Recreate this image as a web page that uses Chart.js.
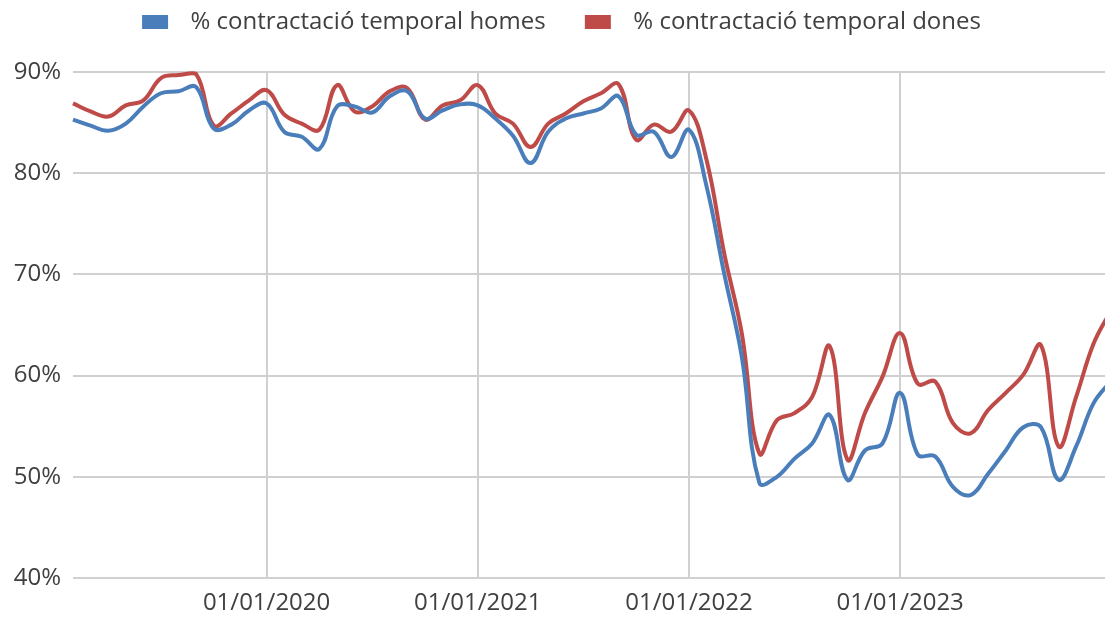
<!DOCTYPE html>
<html>
<head>
<meta charset="utf-8">
<script src="https://cdn.jsdelivr.net/npm/chart.js@4"></script>
<style>
  html, body { margin: 0; padding: 0; background: #fff; }
  #wrap { width: 1105px; height: 618px; }
</style>
</head>
<body>
<div id="wrap"><canvas id="chart"></canvas></div>
<script>
// monthly series, Feb 2019 .. Jan 2024 (index 0 = first month)
const homes = [85.3, 84.7, 84.2, 84.9, 86.6, 87.9, 88.1, 88.5, 84.4, 84.8, 86.2, 86.9,
  84.1, 83.6, 82.4, 86.6, 86.6, 86.0, 87.6, 88.1, 85.4, 86.2, 86.8, 86.7,
  85.4, 83.7, 81.0, 84.1, 85.4, 85.9, 86.4, 87.6, 83.8, 84.1, 81.6, 84.3,
  78.7, 70.1, 61.9, 49.4, 50.0, 51.8, 53.3, 56.1, 49.7, 52.6, 53.3, 58.3,
  52.2, 52.0, 49.0, 48.2, 50.3, 52.6, 54.9, 54.9, 49.7, 53.0, 57.3, 59.5];
const dones = [86.9, 86.1, 85.6, 86.7, 87.2, 89.4, 89.7, 89.8, 84.7, 85.9, 87.2, 88.2,
  85.8, 84.9, 84.3, 88.7, 86.1, 86.6, 88.1, 88.4, 85.3, 86.7, 87.2, 88.7,
  85.9, 84.9, 82.6, 84.9, 85.9, 87.1, 87.9, 88.8, 83.3, 84.8, 84.1, 86.2,
  81.3, 72.1, 64.2, 52.3, 55.6, 56.3, 57.9, 62.9, 51.7, 56.3, 59.9, 64.2,
  59.2, 59.4, 55.3, 54.3, 56.6, 58.3, 60.1, 63.0, 53.0, 57.9, 63.2, 66.5];
const yearTicks = [11, 23, 35, 47];
const yearLabels = ['01/01/2020', '01/01/2021', '01/01/2022', '01/01/2023'];
const seriesNames = ['% contractació temporal homes', '% contractació temporal dones'];

const textColor = '#404040';
const gridColor = '#d0d0d0';
const font = { family: 'Open Sans', size: 24 };

// leave room between the legend and the plot, nudge legend a bit right
const legendGap = {
  id: 'legendGap',
  beforeInit(chart) {
    const fit = chart.legend.fit;
    chart.legend.fit = function () {
      fit.bind(chart.legend)();
      this.height += 28;
    };
  },
  afterLayout(chart) {
    chart.legend.left += 20;
  }
};

new Chart(document.getElementById('chart'), {
  type: 'line',
  plugins: [legendGap],
  data: {
    datasets: [
      {
        label: seriesNames[0],
        data: homes.map((v, i) => ({ x: i, y: v })),
        borderColor: '#4a7ebb',
        backgroundColor: '#4a7ebb',
        borderWidth: 4,
        pointRadius: 0,
        tension: 0.4,
        clip: false
      },
      {
        label: seriesNames[1],
        data: dones.map((v, i) => ({ x: i, y: v })),
        borderColor: '#be4b48',
        backgroundColor: '#be4b48',
        borderWidth: 4,
        pointRadius: 0,
        tension: 0.4,
        clip: false
      }
    ]
  },
  options: {
    responsive: true,
    maintainAspectRatio: false,
    animation: false,
    layout: { padding: { left: 0, right: 0, top: 0, bottom: 0 } },
    plugins: {
      tooltip: { enabled: false },
      legend: {
        position: 'top',
        labels: {
          boxWidth: 22,
          boxHeight: 10,
          padding: 10,
          color: textColor,
          font: font,
          generateLabels(chart) {
            const items = Chart.defaults.plugins.legend.labels.generateLabels(chart);
            items.forEach((it, i) => {
              it.text = '  ' + it.text + (i < items.length - 1 ? '     ' : '');
            });
            return items;
          }
        }
      }
    },
    scales: {
      x: {
        type: 'linear',
        min: 0,
        max: 58.64,
        afterBuildTicks(scale) {
          scale.ticks = yearTicks.map(v => ({ value: v }));
        },
        afterFit(scale) { scale.height = 40; },
        ticks: {
          autoSkip: false,
          maxRotation: 0,
          padding: 11,
          color: textColor,
          font: font,
          callback: v => yearLabels[yearTicks.indexOf(v)]
        },
        grid: { color: gridColor, lineWidth: 2, drawTicks: false },
        border: { display: false }
      },
      y: {
        min: 40,
        max: 90,
        afterFit(scale) { scale.width = 73; },
        ticks: {
          stepSize: 10,
          padding: 12,
          color: textColor,
          font: font,
          callback: v => v + '%'
        },
        grid: { color: gridColor, lineWidth: 2, drawTicks: false },
        border: { display: false }
      }
    }
  }
});
</script>
</body>
</html>
